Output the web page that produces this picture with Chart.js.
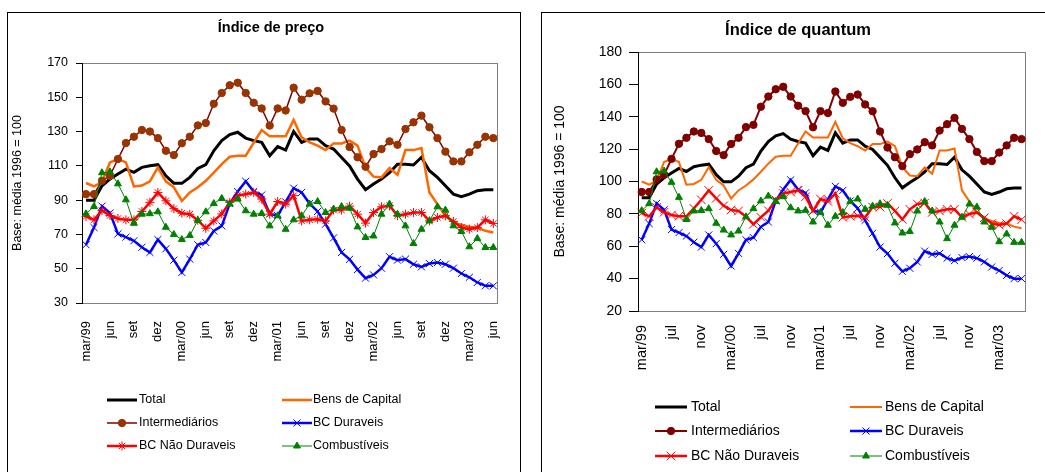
<!DOCTYPE html>
<html>
<head>
<meta charset="utf-8">
<script src="https://cdn.jsdelivr.net/npm/chart.js@4.4.1/dist/chart.umd.min.js"></script>
<style>
  body { margin: 0; width: 1045px; height: 472px; overflow: hidden; position: relative; background: #fff; }
  .moldura { position: absolute; border: 1px solid #000; background: #fff; }
  #m1 { left: 7px; top: 12px; width: 512px; height: 480px; }
  #m2 { left: 541px; top: 12px; width: 520px; height: 480px; }
  canvas { position: absolute; }
  #precoChart { left: 8px; top: 13px; }
  #quantumChart { left: 542px; top: 13px; }
</style>
</head>
<body>
<div class="moldura" id="m1"></div>
<div class="moldura" id="m2"></div>
<canvas id="precoChart" width="511" height="459"></canvas>
<canvas id="quantumChart" width="503" height="459"></canvas>
<script>
// meses de mar/99 a jun/03
var meses = ["jan", "fev", "mar", "abr", "mai", "jun", "jul", "ago", "set", "out", "nov", "dez"];
var rotulos = [];
for (var k = 0; k < 52; k++) {
  var m = (k + 2) % 12;
  var ano = 1999 + Math.floor((k + 2) / 12);
  rotulos.push(m === 2 ? "mar/" + String(ano).slice(2) : meses[m]);
}

var total = [90, 90, 98.4, 102.3, 105.2, 108.1, 106.2, 109.1, 110.1, 110.7, 104.2, 99.8, 99.8, 103.3, 108.5, 110.7, 118.8, 124.7,
  128.2, 129.6, 126.2, 124.7, 123.7, 115.9, 121.2, 119.2, 130.1, 123.7, 125.7, 125.7, 121.8, 119.8, 114.9, 110,
  102.3, 96.1, 99.4, 102.3, 106, 111, 111, 110.5, 115, 107.2, 103.3, 98.4, 93.5, 92, 93.5, 95.5, 96, 96];
var bensCapital = [100, 98, 100.5, 112, 114, 112, 98, 98.5, 101, 109, 101, 97.5, 89.5, 94.5, 97.5, 101.3, 106, 111,
  115.3, 115.9, 115.9, 123.5, 130.9, 127.2, 127.2, 127.2, 136.8, 126.6, 123.7, 121.8, 119.2, 123.1, 123.1, 124.7,
  121.8, 109, 103.7, 103.3, 108.7, 104.8, 119.2, 119.2, 120.4, 94.5, 87.7, 80.9, 77, 75.6, 74.4, 74, 72.1, 71.1];
var intermediarios = [93.5, 93.5, 101.3, 104.2, 114, 123.3, 127, 130.9, 130, 126.2, 118.8, 116.3, 123.2, 127, 133.6, 135, 146.2, 152.5,
  157, 158.5, 152.5, 146.8, 143.5, 133.5, 143.5, 142.3, 155.6, 148.6, 152.3, 153.7, 147.6, 143.4, 130.9, 121,
  115, 109.5, 116.9, 119.8, 124.3, 122.3, 131.5, 135.4, 139.3, 132.5, 126.2, 118.3, 112.6, 112.6, 117.9, 122.3, 127, 126.2];
var bcDuraveis = [64, 74, 86.5, 82.5, 70.3, 68.4, 66.3, 62.5, 59.5, 67, 61.6, 55, 47.8, 55.6, 64, 65.3, 72, 75,
  88, 95, 101, 95, 93, 82, 81, 89, 97, 94.5, 88, 83.4, 76, 68, 59.5, 55.5,
  49.5, 44.5, 46.4, 50.3, 57, 55, 55.6, 52.6, 51.1, 53, 53.6, 52.6, 50.3, 47.2, 45, 42, 40, 40];
var bcNaoDuraveis = [80.5, 78.5, 84, 81, 79.3, 78.5, 78.5, 83.4, 88.7, 94.5, 89.6, 85, 82.4, 81.8, 78.3, 73.6, 77.9, 82,
  88.7, 92.6, 93.5, 94.5, 90.6, 81.8, 89.2, 87.7, 92.6, 77.9, 78.5, 78.9, 77.9, 84.2, 84.2, 86.5,
  81.8, 76.6, 82.8, 86.1, 86.7, 80.9, 81.8, 82.8, 82.8, 77.9, 79.9, 80.9, 77.6, 74, 73.1, 74, 78.5, 76.4];
var combustiveis = [82, 86.3, 106, 106.5, 99.5, 90.2, 76.5, 81.8, 82.1, 83.2, 74.2, 70, 67, 69.4, 78.2, 83.2, 88, 91,
  87.7, 90.6, 83.8, 81.8, 82.2, 75, 80.9, 73, 78.5, 80.9, 87.7, 89.2, 82.8, 84.8, 86.3, 85.3,
  74.4, 68.2, 69.1, 81.8, 87.7, 81.8, 75, 64.7, 73, 77.9, 86.1, 84.2, 75, 71.7, 62.8, 67.6, 62.4, 62.4];

Chart.defaults.font.family = "'Liberation Sans', Arial, sans-serif";
Chart.defaults.color = "#000";

function series(esquerda) {
  return [
    { label: "Total", data: total, borderColor: "#000000", borderWidth: 3, pointRadius: 0, order: 6 },
    { label: "Bens de Capital", data: bensCapital, borderColor: "#FF6600", borderWidth: esquerda ? 2.5 : 2, pointRadius: 0, order: 5 },
    { label: "Intermediários", data: intermediarios, borderColor: "#800000", borderWidth: esquerda ? 1.5 : 2,
      pointStyle: "circle", pointRadius: 3.7, pointBorderWidth: 1,
      pointBackgroundColor: esquerda ? "#993300" : "#800000", pointBorderColor: esquerda ? "#993300" : "#800000", order: 4 },
    { label: "BC Duraveis", data: bcDuraveis, borderColor: "#0000FF", borderWidth: 2.5,
      pointStyle: "crossRot", pointRadius: 5, pointBorderWidth: 1,
      pointBackgroundColor: "#0000FF", pointBorderColor: "#0000FF", order: 3 },
    { label: "BC Não Duraveis", data: bcNaoDuraveis, borderColor: "#FF0000", borderWidth: 2.5,
      pointStyle: esquerda ? "star" : "crossRot", pointRadius: esquerda ? 4.5 : 6, pointBorderWidth: 1,
      pointBackgroundColor: "#FF0000", pointBorderColor: "#FF0000", order: 2 },
    { label: "Combustíveis", data: combustiveis, borderColor: "#008000", borderWidth: 1,
      pointStyle: "triangle", pointRadius: 4, pointBorderWidth: 1,
      pointBackgroundColor: "#008000", pointBorderColor: "#008000", order: 1 }
  ];
}

// titulo, moldura da area de plotagem e legenda em duas colunas
function extras(cfg) {
  return {
    id: "extras",
    beforeDraw: function (chart) {
      var a = chart.chartArea, ctx = chart.ctx;
      ctx.save();
      ctx.strokeStyle = "#808080";
      ctx.lineWidth = 1;
      ctx.strokeRect(Math.round(a.left) + 0.5, Math.round(a.top) + 0.5, Math.round(a.right - a.left), Math.round(a.bottom - a.top));
      ctx.restore();
    },
    afterDraw: function (chart) {
      var ctx = chart.ctx;
      ctx.save();
      ctx.fillStyle = "#000";
      ctx.font = "bold " + cfg.tituloFonte + "px 'Liberation Sans', Arial, sans-serif";
      ctx.textAlign = "center";
      ctx.textBaseline = "middle";
      ctx.fillText(cfg.titulo, cfg.tituloX, cfg.tituloY);

      chart.data.datasets.forEach(function (ds, i) {
        var y = cfg.linhas[Math.floor(i / 2)], c = cfg.colunas[i % 2];
        ctx.strokeStyle = ds.borderColor;
        ctx.lineWidth = ds.borderWidth;
        ctx.beginPath();
        ctx.moveTo(c[0], y);
        ctx.lineTo(c[1], y);
        ctx.stroke();
        if (ds.pointRadius > 0) {
          ctx.fillStyle = ds.pointBackgroundColor;
          ctx.strokeStyle = ds.pointBorderColor;
          ctx.lineWidth = ds.pointBorderWidth;
          Chart.helpers.drawPoint(ctx, { pointStyle: ds.pointStyle, radius: ds.pointRadius, borderWidth: ds.pointBorderWidth, rotation: 0 }, (c[0] + c[1]) / 2, y);
        }
        ctx.fillStyle = "#000";
        ctx.font = cfg.legendaFonte + "px 'Liberation Sans', Arial, sans-serif";
        ctx.textAlign = "left";
        ctx.fillText(ds.label, c[2], y);
      });
      ctx.restore();
    }
  };
}

function grafico(id, esquerda, yMin, yMax, passo, cada, cfg) {
  return new Chart(id, {
    type: "line",
    data: { labels: rotulos, datasets: series(esquerda) },
    plugins: [extras(cfg)],
    options: {
      responsive: false,
      animation: false,
      layout: { padding: cfg.padding },
      plugins: { legend: { display: false }, title: { display: false }, tooltip: { enabled: false } },
      elements: { line: { tension: 0 } },
      scales: {
        x: {
          offset: true,
          grid: { display: false },
          border: { color: "#808080" },
          ticks: {
            autoSkip: false, maxRotation: 90, minRotation: 90,
            padding: cfg.xPad, font: { size: cfg.xFonte },
            callback: function (v, i) { return i % cada === 0 ? this.getLabelForValue(v) : ""; }
          },
          afterFit: function (s) { s.height = cfg.xAltura; }
        },
        y: {
          min: yMin, max: yMax,
          grid: { drawOnChartArea: false, color: "#000", tickLength: cfg.tickLen },
          border: { color: "#000" },
          ticks: { stepSize: passo, padding: cfg.yPad, font: { size: cfg.yFonte } },
          title: { display: true, text: "Base: média 1996 = 100", font: { size: cfg.yTituloFonte }, padding: { top: cfg.yTituloPad, bottom: 0 } },
          afterFit: function (s) { s.width = cfg.yLargura; }
        }
      }
    }
  });
}

grafico("precoChart", true, 30, 170, 20, 3, {
  titulo: "Índice de preço", tituloFonte: 14.5, tituloX: 263, tituloY: 15,
  padding: { top: 50, left: 0, right: 8, bottom: 107 },
  xAltura: 62, xPad: 10, xFonte: 13,
  yLargura: 74, tickLen: 6, yPad: 8, yFonte: 12.5, yTituloFonte: 12.5, yTituloPad: 2,
  legendaFonte: 12.5, linhas: [387, 410, 433],
  colunas: [[99, 129, 131], [274, 304, 305]]
});

grafico("quantumChart", false, 20, 180, 20, 4, {
  titulo: "Índice de quantum", tituloFonte: 16.5, tituloX: 256, tituloY: 17,
  padding: { top: 39, left: 0, right: 2, bottom: 99 },
  xAltura: 62, xPad: 6, xFonte: 14.5,
  yLargura: 96, tickLen: 9, yPad: 7, yFonte: 14, yTituloFonte: 14, yTituloPad: 10,
  legendaFonte: 14, linhas: [394, 418, 443],
  colunas: [[113, 145, 149], [308, 340, 343]]
});
</script>
</body>
</html>
